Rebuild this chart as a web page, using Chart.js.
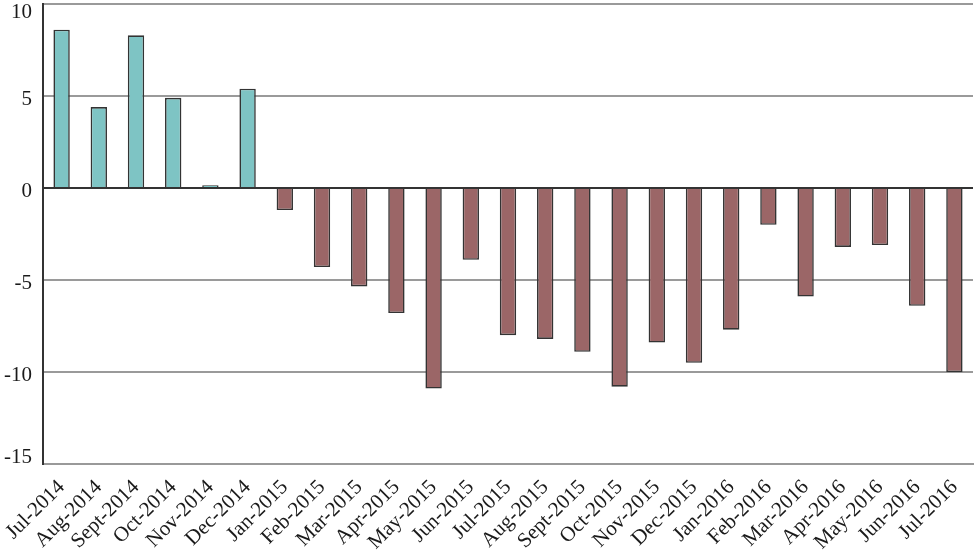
<!DOCTYPE html>
<html>
<head>
<meta charset="utf-8">
<script src="https://cdn.jsdelivr.net/npm/chart.js@4/dist/chart.umd.min.js"></script>
<style>
  html, body { margin: 0; padding: 0; background: #ffffff; }
  #wrap { width: 980px; height: 552px; position: relative; }
</style>
</head>
<body>
<div id="wrap"><canvas id="c" width="980" height="552"></canvas></div>
<script>
const categories = ["Jul-2014","Aug-2014","Sept-2014","Oct-2014","Nov-2014","Dec-2014",
  "Jan-2015","Feb-2015","Mar-2015","Apr-2015","May-2015","Jun-2015","Jul-2015","Aug-2015",
  "Sept-2015","Oct-2015","Nov-2015","Dec-2015","Jan-2016","Feb-2016","Mar-2016","Apr-2016",
  "May-2016","Jun-2016","Jul-2016"];
const values = [8.6, 4.4, 8.3, 4.9, 0.15, 5.4,
  -1.2, -4.3, -5.35, -6.8, -10.9, -3.9, -8.0, -8.2,
  -8.9, -10.8, -8.4, -9.5, -7.7, -2.0, -5.9, -3.2,
  -3.1, -6.4, -10.0];
const yTicks = [10, 5, 0, -5, -10, -15];

const positiveColor = '#7ec4c4';
const negativeColor = '#9b6667';
const serif = '"Liberation Serif", "Times New Roman", serif';

// Draws y tick labels, kept inside the canvas at the top and bottom ends like the reference.
const yLabelPlugin = {
  id: 'yLabels',
  afterDraw(chart) {
    const s = chart.scales.y;
    const ctx = chart.ctx;
    ctx.save();
    ctx.font = '21px ' + serif;
    ctx.fillStyle = '#1a1a1a';
    ctx.textAlign = 'right';
    ctx.textBaseline = 'middle';
    const top = chart.chartArea.top + 8;
    const bottom = chart.chartArea.bottom - 7;
    yTicks.forEach(v => {
      let y = s.getPixelForValue(v) + 3;
      y = Math.min(Math.max(y, top), bottom);
      ctx.fillText(String(v), s.right - 11, y);
    });
    ctx.restore();
  }
};

new Chart(document.getElementById('c'), {
  type: 'bar',
  data: {
    labels: categories,
    datasets: [{
      data: values,
      backgroundColor: ctx => (ctx.raw >= 0 ? positiveColor : negativeColor),
      borderColor: '#333333',
      borderWidth: 1.6,
      barPercentage: 0.44,
      categoryPercentage: 1.0
    }]
  },
  options: {
    responsive: false,
    animation: false,
    layout: { padding: { top: 4, right: 7, left: 0, bottom: 0 } },
    plugins: { legend: { display: false }, tooltip: { enabled: false } },
    scales: {
      x: {
        grid: { display: false, drawTicks: false },
        border: { display: true, color: '#999999', width: 2 },
        ticks: {
          autoSkip: false,
          maxRotation: 45,
          minRotation: 45,
          padding: 11,
          color: '#1a1a1a',
          font: { family: serif, size: 21 }
        },
        afterFit: s => { s.height = 88; s.paddingLeft = 0; s.paddingRight = 0; }
      },
      y: {
        min: -15,
        max: 10,
        afterBuildTicks: s => { s.ticks = yTicks.map(v => ({ value: v })); },
        grid: {
          drawTicks: false,
          color: ctx => (ctx.tick && ctx.tick.value === 0 ? '#333333' : '#9a9a9a'),
          lineWidth: 2
        },
        border: { display: true, color: '#333333', width: 2 },
        ticks: { display: false },
        afterFit: s => { s.width = 43; s.paddingTop = 0; s.paddingBottom = 0; }
      }
    }
  },
  plugins: [yLabelPlugin]
});
</script>
</body>
</html>
